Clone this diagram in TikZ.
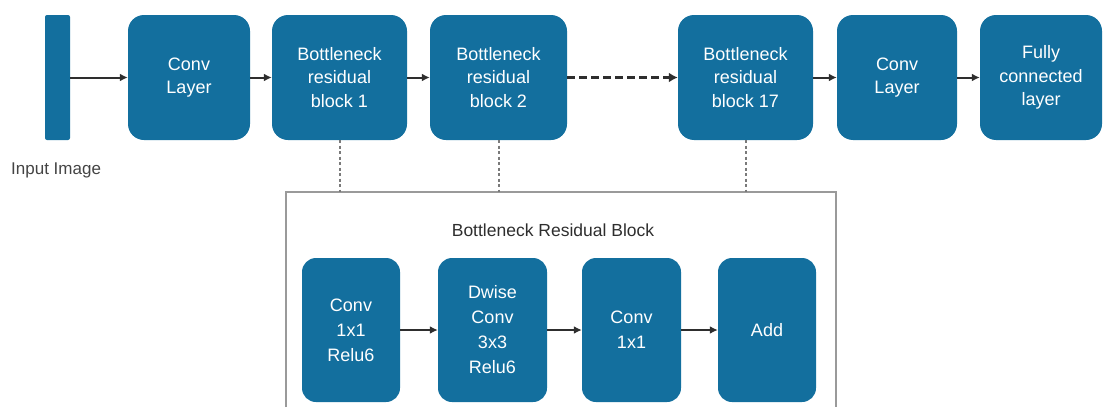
\documentclass[tikz,border=0pt]{standalone}
\usepackage{fontspec}
\setmainfont{Liberation Sans}
\usetikzlibrary{arrows.meta}
\definecolor{blockblue}{HTML}{136F9E}
\definecolor{linegray}{HTML}{2E2E2E}
\definecolor{framegray}{HTML}{9A9A9A}
\definecolor{linkgray}{HTML}{7A7A7A}
\definecolor{labelgray}{HTML}{444444}
\tikzset{
  block/.style={fill=blockblue, rounded corners=16pt, text=white, align=center,
    inner sep=0pt, font=\fontsize{18}{23.5}\selectfont},
  subblock/.style={fill=blockblue, rounded corners=14pt, text=white, align=center,
    inner sep=0pt, font=\fontsize{18}{25}\selectfont},
  flow/.style={draw=linegray, line width=2pt, -{Latex[length=8pt,width=8pt]}},
  skipflow/.style={draw=linegray, line width=3.2pt, dash pattern=on 8pt off 4pt,
    -{Latex[length=9pt,width=10pt]}},
  link/.style={draw=linkgray, line width=2pt, dash pattern=on 3pt off 2.5pt},
  frame/.style={draw=framegray, line width=1.8pt},
  caption/.style={text=labelgray, font=\fontsize{17}{19}\selectfont, inner sep=0pt}
}
\begin{document}
\begin{tikzpicture}[x=1pt, y=-1pt]
\useasboundingbox (0,0) rectangle (1103,407);

% main pipeline
\node[fill=blockblue, minimum width=25pt, minimum height=125pt, inner sep=0pt, rounded corners=2pt] (input) at (57.5,77.5) {};
\node[block, minimum width=122pt, minimum height=125pt] (conv1) at (189,77.5) {Conv\\Layer};
\node[block, minimum width=135pt, minimum height=125pt] (b1) at (339.5,77.5) {Bottleneck\\residual\\block 1};
\node[block, minimum width=137pt, minimum height=125pt] (b2) at (498.5,77.5) {Bottleneck\\residual\\block 2};
\node[block, minimum width=135pt, minimum height=125pt] (b17) at (745.5,77.5) {Bottleneck\\residual\\block 17};
\node[block, minimum width=120pt, minimum height=125pt] (conv2) at (897,77.5) {Conv\\Layer};
\node[block, minimum width=122pt, minimum height=125pt] (fc) at (1041,77.5) {Fully\\connected\\layer};

\node[caption, anchor=west] (inlabel) at (11,170) {Input Image};

\draw[flow] (input) -- (conv1);
\draw[flow] (conv1) -- (b1);
\draw[flow] (b1) -- (b2);
\draw[skipflow] (b2) -- (b17);
\draw[flow] (b17) -- (conv2);
\draw[flow] (conv2) -- (fc);

% expanded bottleneck block, open at the bottom
\coordinate (fbl) at (286,407);
\coordinate (ftl) at (286,192);
\coordinate (ftr) at (836,192);
\coordinate (fbr) at (836,407);
\draw[frame] (fbl) -- (ftl) -- (ftr) -- (fbr);

\draw[link] (b1.south) -- (b1.south |- ftl);
\draw[link] (b2.south) -- (b2.south |- ftl);
\draw[link] (b17.south) -- (b17.south |- ftl);

\node[text=linegray, font=\fontsize{17.5}{19}\selectfont] (title) at (553,230) {Bottleneck Residual Block};

\node[subblock, minimum width=98pt, minimum height=144pt] (sa) at (351,330) {Conv\\1x1\\Relu6};
\node[subblock, minimum width=109pt, minimum height=144pt] (sb) at (492.5,330) {Dwise\\Conv\\3x3\\Relu6};
\node[subblock, minimum width=99pt, minimum height=144pt] (sc) at (631.5,330) {Conv\\1x1};
\node[subblock, minimum width=98pt, minimum height=144pt] (sd) at (767,330) {Add};

\draw[flow, line width=1.7pt] (sa) -- (sb);
\draw[flow, line width=1.7pt] (sb) -- (sc);
\draw[flow, line width=1.7pt] (sc) -- (sd);
\end{tikzpicture}
\end{document}
